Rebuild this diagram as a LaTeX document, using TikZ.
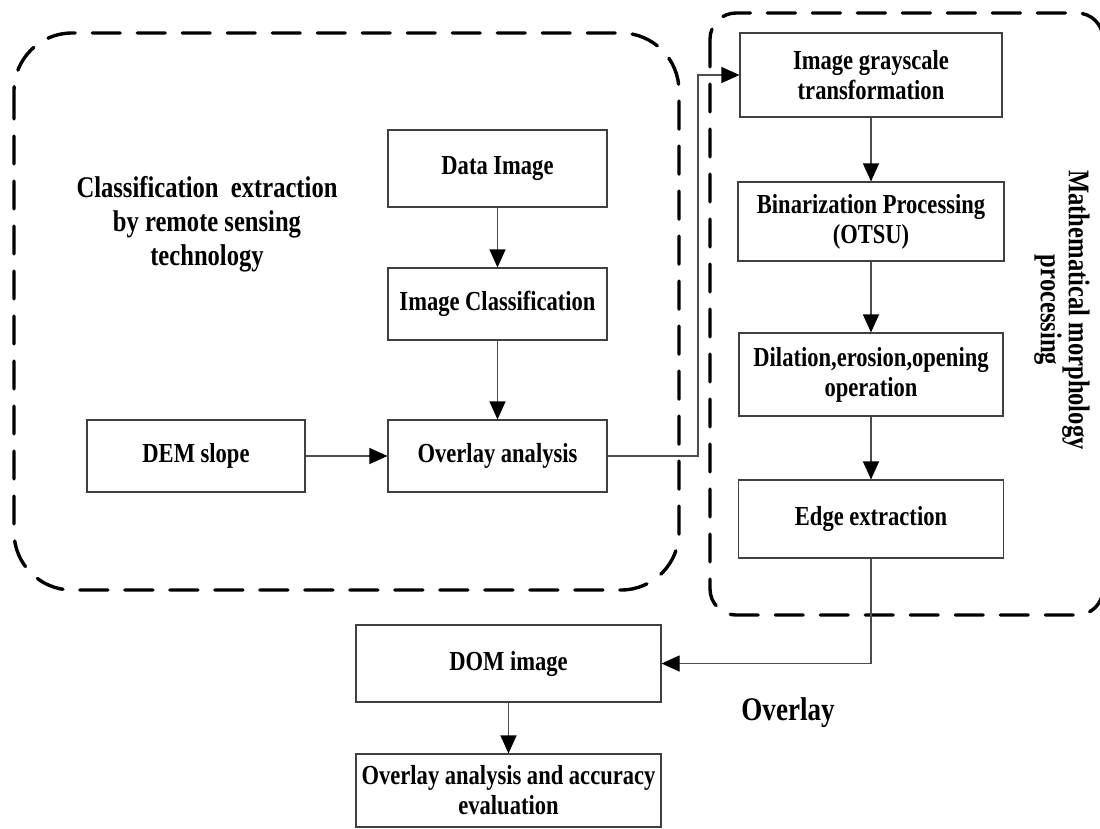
\documentclass[tikz,border=0pt]{standalone}
\usepackage{fontspec}
\usetikzlibrary{arrows.meta}
\newfontfamily\tnr{Liberation Serif}[FakeStretch=0.82]
\begin{document}
\begin{tikzpicture}[x=1pt,y=-1pt,
  box/.style={draw=black!75,line width=1.1pt,fill=white,align=center,inner sep=0pt,
    font=\tnr\bfseries\fontsize{27.5}{30}\selectfont},
  arr/.style={draw=black!70,line width=1.1pt,-{Triangle[length=18pt,width=16pt,fill=black,color=black]}},
  region/.style={draw=black,line width=3.4pt,dash pattern=on 28pt off 17pt,line cap=round},
  lbl/.style={align=center,inner sep=0pt,font=\tnr\bfseries\fontsize{30}{34}\selectfont}]
\useasboundingbox (0,0) rectangle (1100,828);
% regions
\draw[region,rounded corners=58pt] (14,33) rectangle (679,590);
\draw[region,rounded corners=26pt] (710,13) rectangle (1103,615);
% left column
\node[box,minimum width=219pt,minimum height=77pt] (data) at (497.5,168.5) {Data Image};
\node[box,minimum width=219pt,minimum height=72pt] (cls) at (497.5,304) {Image Classification};
\node[box,minimum width=219pt,minimum height=72pt] (ovl) at (497.5,456) {Overlay analysis};
\node[box,minimum width=218pt,minimum height=72pt] (dem) at (196,456) {DEM slope};
% right column
\node[box,minimum width=262pt,minimum height=84pt] (gray) at (871,75) {Image grayscale\\transformation};
\node[box,minimum width=266pt,minimum height=79pt] (bin) at (871,221.5) {Binarization Processing\\(OTSU)};
\node[box,minimum width=264pt,minimum height=83pt] (dil) at (871,374.5) {Dilation,erosion,opening\\operation};
\node[box,minimum width=265pt,minimum height=78pt] (edge) at (871,519) {Edge extraction};
% bottom
\node[box,minimum width=305pt,minimum height=77pt] (dom) at (508.5,663.5) {DOM image};
\node[box,minimum width=305pt,minimum height=73pt] (acc) at (508.5,790.5) {Overlay analysis and accuracy\\evaluation};
% labels
\node[lbl] (lreg) at (207,224) {Classification\ \ extraction\\by remote sensing\\technology};
\node[lbl,rotate=-90,font=\tnr\bfseries\fontsize{30}{28}\selectfont] (rreg) at (1062,310) {Mathematical morphology\\processing};
\node[anchor=base,inner sep=0pt,font=\tnr\bfseries\fontsize{33}{36}\selectfont] (ovlbl) at (788,720) {Overlay};
% connectors
\coordinate (turn) at (698,0);
\draw[arr] (data) -- (cls);
\draw[arr] (cls) -- (ovl);
\draw[arr] (dem) -- (ovl);
\draw[arr] (ovl.east) -- (ovl.east -| turn) |- (gray.west);
\draw[arr] (gray) -- (bin);
\draw[arr] (bin) -- (dil);
\draw[arr] (dil) -- (edge);
\draw[arr] (edge.south) |- (dom.east);
\draw[arr] (dom) -- (acc);
\end{tikzpicture}
\end{document}
